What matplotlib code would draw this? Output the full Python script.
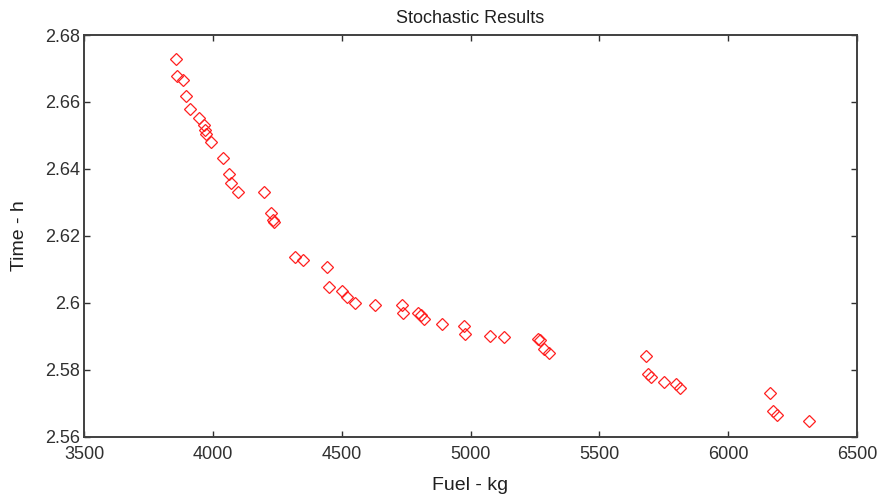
import matplotlib
import matplotlib.pyplot as plt

matplotlib.use("Agg")

# Stochastic run results: fuel burnt vs. flight time
fuel_kg = [
    3857, 3861, 3884, 3896, 3911, 3946, 3966, 3970, 3973, 3993,
    4041, 4064, 4069, 4098, 4199, 4226, 4232, 4237, 4318, 4351,
    4444, 4452, 4502, 4520, 4553, 4628, 4733, 4739, 4797, 4807,
    4820, 4889, 4976, 4977, 5076, 5130, 5261, 5270, 5285, 5306,
    5680, 5687, 5699, 5752, 5798, 5813, 6161, 6175, 6188, 6315,
]
time_h = [
    2.6728, 2.6678, 2.6666, 2.6618, 2.6579, 2.6552, 2.6531, 2.6516, 2.6504, 2.6480,
    2.6432, 2.6385, 2.6357, 2.6332, 2.6330, 2.6267, 2.6247, 2.6240, 2.6137, 2.6127,
    2.6106, 2.6047, 2.6036, 2.6018, 2.6000, 2.5993, 2.5992, 2.5969, 2.5970, 2.5964,
    2.5952, 2.5937, 2.5932, 2.5907, 2.5902, 2.5899, 2.5891, 2.5889, 2.5862, 2.5849,
    2.5841, 2.5786, 2.5779, 2.5764, 2.5757, 2.5744, 2.5730, 2.5678, 2.5666, 2.5648,
]

x_ticks = [3500, 4000, 4500, 5000, 5500, 6000, 6500]
y_ticks = [2.56, 2.58, 2.6, 2.62, 2.64, 2.66, 2.68]
y_tick_labels = ["2.56", "2.58", "2.6", "2.62", "2.64", "2.66", "2.68"]

plt.rcParams["font.family"] = ["Liberation Sans", "DejaVu Sans"]

fig = plt.figure(figsize=(8.84, 4.96), dpi=100)
ax = fig.add_axes([0.095, 0.1196, 0.8745, 0.8098])

ax.plot(fuel_kg, time_h, linestyle="none", marker="D", markersize=6,
        markerfacecolor="none", markeredgecolor="#ff2020", markeredgewidth=0.9)

ax.set_xlim(3500, 6500)
ax.set_ylim(2.56, 2.68)
ax.set_xticks(x_ticks)
ax.set_yticks(y_ticks)
ax.set_yticklabels(y_tick_labels)

ax.tick_params(direction="in", length=4, width=1, top=True, right=True,
               labelsize=13, colors="#303030")
ax.tick_params(axis="x", pad=7)
ax.tick_params(axis="y", pad=3)
for spine in ax.spines.values():
    spine.set_color("#404040")
    spine.set_linewidth(1.4)

ax.set_title("Stochastic Results", fontsize=13, color="#202020", pad=9)
ax.set_xlabel("Fuel - kg", fontsize=14, color="#202020", labelpad=10)
ax.set_ylabel("Time - h", fontsize=14, color="#202020", labelpad=12)

fig.savefig("out.png", dpi=100)
plt.close(fig)
